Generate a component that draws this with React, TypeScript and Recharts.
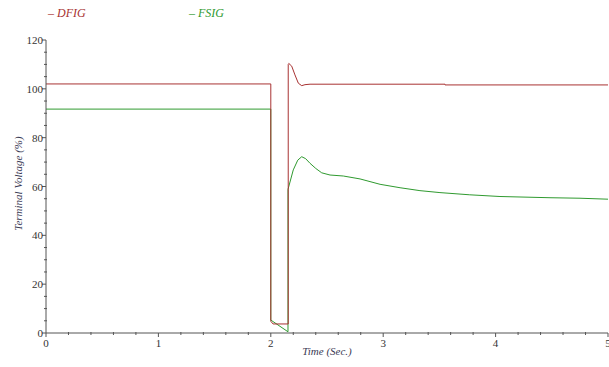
import React from 'react';
import { LineChart, Line, XAxis, YAxis } from 'recharts';

const dfigTime = [0, 2.0, 2.0, 2.02, 2.155, 2.155, 2.16, 2.186, 2.215, 2.245, 2.275, 2.304, 2.349, 3.55, 3.55, 5.0];
const dfigVolt = [102, 102, 4.8, 3.7, 3.7, 110.0, 110.4, 109.3, 105.7, 102.3, 101.3, 101.7, 101.9, 101.9, 101.6, 101.6];

const fsigTime = [0, 2.0, 2.0, 2.153, 2.153, 2.2, 2.24, 2.275, 2.31, 2.349, 2.4, 2.453, 2.527, 2.645, 2.794, 2.972, 3.15, 3.327, 3.505, 3.77, 4.039, 4.484, 4.751, 5.0];
const fsigVolt = [91.7, 91.7, 5.3, 0.5, 58.8, 66.8, 70.8, 72.2, 71.4, 69.5, 67.4, 65.6, 64.7, 64.3, 63.1, 60.9, 59.5, 58.3, 57.5, 56.6, 55.9, 55.4, 55.2, 54.8];

const xTicks = [0, 1, 2, 3, 4, 5];
const yTicks = [0, 20, 40, 60, 80, 100, 120];

const dfigData = dfigTime.map((t, i) => ({ t, v: dfigVolt[i] }));
const fsigData = fsigTime.map((t, i) => ({ t, v: fsigVolt[i] }));

const xAll: number[] = [];
for (let i = 0; i <= 25; i++) xAll.push(Math.round(i * 2) / 10);
const yAll: number[] = [];
for (let i = 0; i <= 24; i++) yAll.push(i * 5);

const AXIS = '#555555';
const LABEL = '#333333';
const DFIG_C = '#a83232';
const FSIG_C = '#2f9a2f';

const XTick = (props: any) => {
  const { x, y, payload } = props;
  const major = xTicks.includes(payload.value);
  return (
    <g>
      {major ? (
        <line x1={x} x2={x} y1={y} y2={y + 4} stroke={AXIS} strokeWidth={1} />
      ) : (
        <line x1={x} x2={x} y1={y - 1} y2={y + 2} stroke={AXIS} strokeWidth={1} />
      )}
      {major && (
        <text x={x} y={y + 14} textAnchor="middle" fontSize={11} fill={LABEL} fontFamily="Liberation Serif, serif">
          {payload.value}
        </text>
      )}
    </g>
  );
};

const YTick = (props: any) => {
  const { x, y, payload } = props;
  const major = yTicks.includes(payload.value);
  return (
    <g>
      {major ? (
        <line x1={x - 4} x2={x} y1={y} y2={y} stroke={AXIS} strokeWidth={1} />
      ) : (
        <line x1={x - 2} x2={x + 1} y1={y} y2={y} stroke={AXIS} strokeWidth={1} />
      )}
      {major && (
        <text x={x - 3} y={y + 4} textAnchor="end" fontSize={11} fill={LABEL} fontFamily="Liberation Serif, serif">
          {payload.value}
        </text>
      )}
    </g>
  );
};

export default function App() {
  return (
    <div style={{ position: 'absolute', left: 0, top: 0, width: 609, height: 367, background: '#fff' }}>
      <div style={{ position: 'absolute', left: 48, top: 6, fontFamily: 'Liberation Serif, serif', fontStyle: 'italic', fontSize: 12, color: DFIG_C }}>
        – DFIG
      </div>
      <div style={{ position: 'absolute', left: 189, top: 6, fontFamily: 'Liberation Serif, serif', fontStyle: 'italic', fontSize: 12, color: FSIG_C }}>
        – FSIG
      </div>
      <LineChart width={609} height={367} margin={{ top: 40, right: 1, bottom: 0, left: 0 }}>
        <XAxis
          type="number"
          dataKey="t"
          domain={[0, 5]}
          ticks={xAll}
          interval={0}
          height={34}
          tickSize={0}
          tickMargin={0}
          tickLine={false}
          tick={<XTick />}
          stroke={AXIS}
          allowDataOverflow
          label={{
            content: (p: any) => {
              const vb = p.viewBox;
              return (
                <text x={vb.x + vb.width / 2} y={vb.y + 22} textAnchor="middle" fontSize={11} fontStyle="italic" fill="#3a3a55" fontFamily="Liberation Serif, serif">
                  Time (Sec.)
                </text>
              );
            },
          }}
        />
        <YAxis
          type="number"
          domain={[0, 120]}
          ticks={yAll}
          interval={0}
          width={46}
          tickSize={0}
          tickMargin={0}
          tickLine={false}
          tick={<YTick />}
          stroke={AXIS}
          allowDataOverflow
          label={{
            content: (p: any) => {
              const vb = p.viewBox;
              const cx = 18;
              const cy = vb.y + vb.height / 2 - 3;
              return (
                <text x={cx} y={cy} transform={`rotate(-90 ${cx} ${cy})`} textAnchor="middle" dominantBaseline="central" fontSize={11} fontStyle="italic" fill="#3a3a55" fontFamily="Liberation Serif, serif">
                  Terminal Voltage (%)
                </text>
              );
            },
          }}
        />
        <Line data={fsigData} dataKey="v" type="linear" stroke={FSIG_C} strokeWidth={1} dot={false} isAnimationActive={false} />
        <Line data={dfigData} dataKey="v" type="linear" stroke={DFIG_C} strokeWidth={1} dot={false} isAnimationActive={false} />
      </LineChart>
    </div>
  );
}
